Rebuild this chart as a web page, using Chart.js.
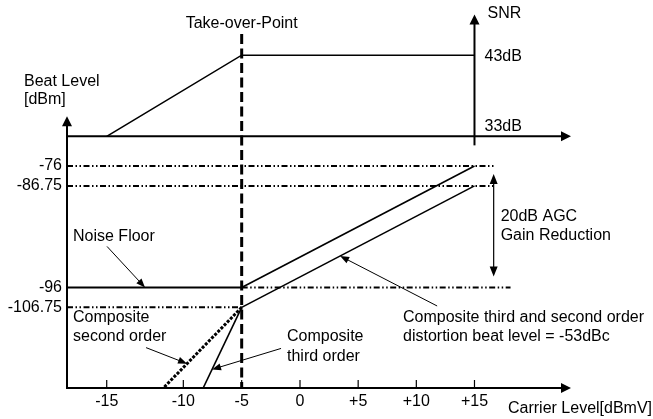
<!DOCTYPE html>
<html>
<head>
<meta charset="utf-8">
<script src="https://cdn.jsdelivr.net/npm/chart.js@4/dist/chart.umd.min.js"></script>
<style>
  html, body { margin: 0; padding: 0; background: #fff; }
  #wrap { width: 653px; height: 419px; }
</style>
</head>
<body>
<div id="wrap"><canvas id="c" width="653" height="419"></canvas></div>
<script>
// ---- values ----
const carrierTicks = [-15, -10, -5, 0, 5, 10, 15];          // dBmV
const beatTicks = [-106.75, -96, -86.75, -76];              // dBm
const takeOverPoint = -5;                                    // dBmV

// noise floor (dBm) below the take-over point
const noiseX = [-20, -5];
const noiseY = [-96, -96];

// composite distortion beat level above the take-over point (-53 dBc)
const upperBeatX = [-5, 15];
const upperBeatY = [-96, -76];
const lowerBeatX = [-5, 15];
const lowerBeatY = [-106.75, -86.75];

// composite second / third order below the take-over point
const csoX = [-5, -11.3];
const csoY = [-106.75, -120];
const ctbX = [-5, -8.3];
const ctbY = [-106.75, -120];

// SNR (dB)
const snrX = [-15, -5, 15];
const snrY = [33, 43, 43];
const snrTicks = [33, 43];

// dash-dot reference levels
const refLevels = [-76, -86.75, -96, -106.75];
const refStartX = [-20, -20, -5, -20];
const refEndX = [16.8, 16.8, 18.1, -5];

// AGC range marker
const agcX = 16.65;

// ---- piecewise (schematic) axes ----
const segmentsByAxis = {
  x: [[-20, 0], [-15, 0.0788], [-10, 0.2308], [-5, 0.3466], [0, 0.4623],
      [5, 0.5777], [10, 0.6931], [15, 0.8085], [23.3, 1]],
  y: [[-120, 0], [-106.75, 0.216], [-96, 0.2693], [-86.75, 0.5413],
      [-76, 0.5947], [-51, 1]]
};

class SegmentedScale extends Chart.LinearScale {
  _segs() { return segmentsByAxis[this.id]; }
  _toDecimal(v) {
    const s = this._segs();
    let i = 1;
    while (i < s.length - 1 && v > s[i][0]) i++;
    const [v0, d0] = s[i - 1], [v1, d1] = s[i];
    return d0 + (v - v0) / (v1 - v0) * (d1 - d0);
  }
  getPixelForValue(value) {
    if (value === null || value === undefined || Number.isNaN(value)) return NaN;
    return this.getPixelForDecimal(this._toDecimal(value));
  }
  getValueForPixel(pixel) {
    const d = this.getDecimalForPixel(pixel);
    const s = this._segs();
    let i = 1;
    while (i < s.length - 1 && d > s[i][1]) i++;
    const [v0, d0] = s[i - 1], [v1, d1] = s[i];
    return v0 + (d - d0) / (d1 - d0) * (v1 - v0);
  }
}
SegmentedScale.id = 'segmented';
SegmentedScale.defaults = {};
Chart.register(SegmentedScale);

const FONT = '"Liberation Sans", Arial, Helvetica, sans-serif';
Chart.defaults.font.family = FONT;
Chart.defaults.font.size = 16;
Chart.defaults.color = '#000';

const zip = (xs, ys) => xs.map((x, i) => ({ x, y: ys[i] }));
const line = (label, xs, ys, width, dash, axis) => ({
  label, data: zip(xs, ys), borderColor: '#000', backgroundColor: '#000',
  borderWidth: width, borderDash: dash || [], borderCapStyle: 'butt',
  pointRadius: 0, fill: false, tension: 0, yAxisID: axis || 'y'
});

const DASH_DOT_DOT = [6, 2.5, 1.5, 2.5, 1.5, 2.5];

const datasets = [
  line('Noise Floor', noiseX, noiseY, 2),
  line('Beat upper', upperBeatX, upperBeatY, 1.6),
  line('Beat lower', lowerBeatX, lowerBeatY, 1.6),
  line('Composite second order', csoX, csoY, 3, [3, 1.5]),
  line('Composite third order', ctbX, ctbY, 1.6),
  line('SNR', snrX, snrY, 1.6, [], 'y2'),
  line('Take-over-Point', [takeOverPoint, takeOverPoint], [45.6, 2], 3, [10, 4.5], 'y2')
];
refLevels.forEach((lv, i) => {
  datasets.push(line('ref ' + lv, [refStartX[i], refEndX[i]], [lv, lv], 2, DASH_DOT_DOT));
});
const IDX = { noise: 0, upper: 1, lower: 2, cso: 3, ctb: 4 };

// ---- drawing helpers ----
function head(ctx, x, y, ang, len, half) {
  ctx.save();
  ctx.translate(x, y);
  ctx.rotate(ang);
  ctx.beginPath();
  ctx.moveTo(0, 0);
  ctx.lineTo(-len, -half);
  ctx.lineTo(-len, half);
  ctx.closePath();
  ctx.fill();
  ctx.restore();
}
function arrow(ctx, x0, y0, x1, y1, width, len, half) {
  const ang = Math.atan2(y1 - y0, x1 - x0);
  ctx.lineWidth = width;
  ctx.beginPath();
  ctx.moveTo(x0, y0);
  ctx.lineTo(x1 - Math.cos(ang) * len * 0.8, y1 - Math.sin(ang) * len * 0.8);
  ctx.stroke();
  head(ctx, x1, y1, ang, len, half);
}
function pointOn(chart, ds, xValue) {
  const pts = chart.getDatasetMeta(ds).data;
  const a = pts[0], b = pts[pts.length - 1];
  const px = chart.scales.x.getPixelForValue(xValue);
  const t = (px - a.x) / (b.x - a.x);
  return { x: px, y: a.y + t * (b.y - a.y) };
}

const diagram = {
  id: 'diagram',
  afterDatasetsDraw(chart) {
    const { ctx, chartArea: ca, scales: { x, y, y2 } } = chart;
    ctx.save();
    ctx.strokeStyle = '#000';
    ctx.fillStyle = '#000';
    ctx.setLineDash([]);
    ctx.lineCap = 'butt';

    const x0 = x.getPixelForValue(x.min);
    const yb = y.getPixelForValue(y.min);

    // carrier level axis
    arrow(ctx, x0, yb, ca.right, yb, 2, 10, 5);
    // beat level axis
    arrow(ctx, x0, yb + 1, x0, y.getPixelForValue(-67.8), 2, 10, 5);
    // inward tick marks
    ctx.lineWidth = 1.2;
    carrierTicks.forEach(v => {
      const px = x.getPixelForValue(v);
      ctx.beginPath();
      ctx.moveTo(px, yb);
      ctx.lineTo(px, yb - 8);
      ctx.stroke();
    });

    // SNR axes
    const s33 = y2.getPixelForValue(33);
    arrow(ctx, x0, s33, ca.right, s33, 2, 10, 5);
    const sx = x.getPixelForValue(15);
    arrow(ctx, sx, s33 + 9, sx, ca.top, 2, 10, 5);

    // AGC gain reduction marker
    const ax = x.getPixelForValue(agcX);
    const aTop = y.getPixelForValue(-76) + 8;
    const aBot = y.getPixelForValue(-96) - 11;
    ctx.lineWidth = 1.2;
    ctx.beginPath();
    ctx.moveTo(ax, aTop + 8);
    ctx.lineTo(ax, aBot - 8);
    ctx.stroke();
    head(ctx, ax, aTop, -Math.PI / 2, 10, 4);
    head(ctx, ax, aBot, Math.PI / 2, 10, 4);

    // callout arrows
    const callouts = [
      [IDX.noise, -12.5, -38, -41],
      [IDX.cso, -9.68, -41, -16],
      [IDX.ctb, -7.54, 69, -21],
      [IDX.lower, 3.45, 97, 50]
    ];
    callouts.forEach(([ds, xv, dx, dy]) => {
      const p = pointOn(chart, ds, xv);
      arrow(ctx, p.x + dx, p.y + dy, p.x, p.y, 1, 9, 3.5);
    });

    // texts
    ctx.font = '16px ' + FONT;
    ctx.textBaseline = 'alphabetic';
    ctx.textAlign = 'center';
    ctx.fillText('Take-over-Point', x.getPixelForValue(takeOverPoint), 28);
    ctx.textAlign = 'left';
    const t = (s, px, py) => ctx.fillText(s, px, py);
    t('Beat Level', 24, 86);
    t('[dBm]', 24, 104);
    t('SNR', sx + 13, 18);
    snrTicks.forEach(v => t(v + 'dB', sx + 10, y2.getPixelForValue(v) + 6 - (v === 33 ? 11 : 0)));
    t('20dB AGC', ax + 7, 221);
    t('Gain Reduction', ax + 7, 240);
    t('Noise Floor', 73, 241);
    t('Composite', 73, 322);
    t('second order', 73, 341);
    t('Composite', 287, 341);
    t('third order', 287, 361);
    t('Composite third and second order', 403, 322);
    t('distortion beat level = -53dBc', 403, 341);
    t('Carrier Level[dBmV]', 508, 413);
    ctx.restore();
  }
};

new Chart(document.getElementById('c'), {
  type: 'line',
  data: { datasets },
  options: {
    responsive: false,
    animation: false,
    events: [],
    layout: { padding: { top: 13, right: 82, bottom: 0, left: 0 } },
    plugins: { legend: { display: false }, tooltip: { enabled: false } },
    scales: {
      x: {
        type: 'segmented', position: 'bottom', min: -20, max: 23.3,
        grid: { display: false, drawTicks: false }, border: { display: false },
        afterBuildTicks: s => { s.ticks = carrierTicks.map(v => ({ value: v })); },
        afterFit: s => { s.height = 31; },
        ticks: {
          autoSkip: false, maxRotation: 0, padding: 4,
          callback: v => (v > 0 ? '+' + v : String(v))
        }
      },
      y: {
        type: 'segmented', position: 'left', min: -120, max: -51,
        grid: { display: false, drawTicks: false }, border: { display: false },
        afterBuildTicks: s => { s.ticks = beatTicks.map(v => ({ value: v })); },
        afterFit: s => { s.width = 67; },
        ticks: { padding: 5, callback: v => String(v) }
      },
      y2: { type: 'linear', display: false, min: 2, max: 48 }
    }
  },
  plugins: [diagram]
});
</script>
</body>
</html>
